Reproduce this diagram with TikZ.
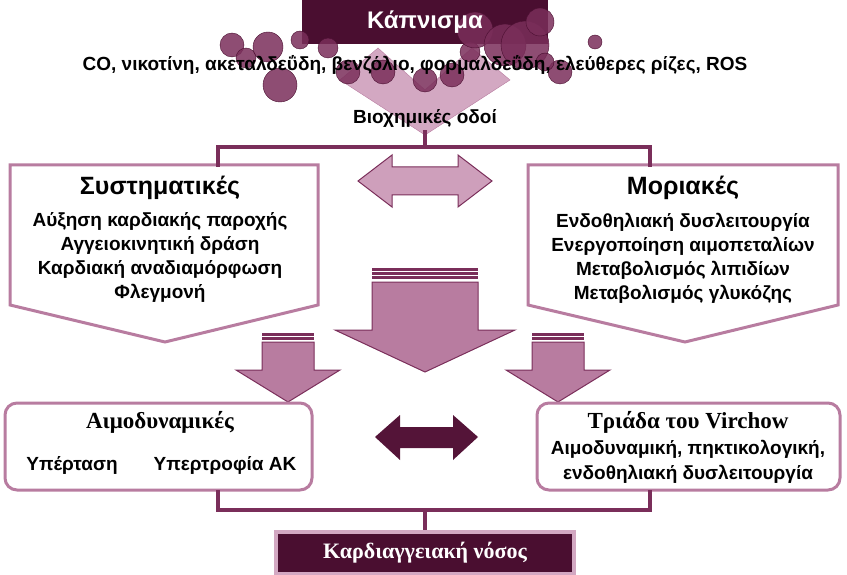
\documentclass[tikz,border=0pt]{standalone}
\usepackage{fontspec}
\setmainfont{Liberation Sans}
\newfontfamily\serifgr{Liberation Serif}
\usetikzlibrary{positioning,shapes.geometric}
\definecolor{plum}{HTML}{7A2E5A}
\definecolor{darkplum}{HTML}{4A0E30}
\definecolor{rose}{HTML}{B87CA0}
\definecolor{lightrose}{HTML}{D3A8C2}
\tikzset{
  txt/.style={font=\bfseries\fontsize{19}{22}\selectfont, text=black, align=center},
  ttl/.style={font=\bfseries\fontsize{25}{28}\selectfont},
  sttl/.style={font=\serifgr\bfseries\fontsize{23}{25}\selectfont},
  pent/.style={draw=rose, line width=3pt, fill=white},
  rbox/.style={draw=rose, line width=3pt, fill=white, rounded corners=12pt},
  brk/.style={draw=plum, line width=4pt},
  bigarrow/.style={fill=rose, draw=plum, line width=1pt},
  bubble/.style={fill=plum, fill opacity=0.85, draw=darkplum}
}
\begin{document}
\begin{tikzpicture}[x=1pt,y=-1pt]
\useasboundingbox (0,0) rectangle (847,575);
% top box
\node (smoke) [fill=darkplum, minimum width=246pt, minimum height=45pt] at (425,22) {};
% chevron
\fill[lightrose, draw=rose] (340,80) -- (378,48) -- (425,90) -- (472,48) -- (510,80) -- (425,135) -- cycle;
% bubbles
\foreach \x/\y/\r in {232/45/12, 246/58/10, 268/47/15, 280/85/17, 300/40/9, 328/48/10,
  348/72/12, 383/72/12, 425/80/12, 452/75/12, 470/52/10, 475/30/18, 505/45/21,
  525/45/24, 540/22/14, 560/72/12, 595/42/7, 545/62/9}
  \fill[bubble] (\x,\y) circle (\r);
\node (smoketxt) [text=white, font=\bfseries\fontsize{24}{26}\selectfont] at (smoke) {Κάπνισμα};
\node (agents) [txt] at (415,65) {CO, νικοτίνη, ακεταλδεΰδη, βενζόλιο, φορμαλδεΰδη, ελεύθερες ρίζες, ROS};
\node (path) [txt] at (425,118) {Βιοχημικές οδοί};
% upper boxes
\draw[pent] (10,165) -- (318,165) -- (318,305) -- (165,342) -- (10,305) -- cycle;
\draw[pent] (528,165) -- (838,165) -- (838,305) -- (685,342) -- (528,305) -- cycle;
\node (sys) [ttl] at (160,188) {Συστηματικές};
\node (sysitems) [txt, below=6pt of sys, font=\bfseries\fontsize{19}{24}\selectfont]
  {Αύξηση καρδιακής παροχής\\Αγγειοκινητική  δράση\\Καρδιακή αναδιαμόρφωση\\Φλεγμονή};
\node (mol) [ttl] at (683,188) {Μοριακές};
\node (molitems) [txt, below=6pt of mol, font=\bfseries\fontsize{19}{24}\selectfont]
  {Ενδοθηλιακή δυσλειτουργία\\Ενεργοποίηση αιμοπεταλίων\\Μεταβολισμός λιπιδίων\\Μεταβολισμός γλυκόζης};
% upper bracket
\coordinate (bl) at (218,167);
\coordinate (br) at (650,167);
\draw[brk] (bl) -- (218,147) -- (650,147) -- (br);
\draw[brk] (425,147) -- (path.south);
% double arrow upper
\fill[lightrose!80!rose, draw=plum, line width=1pt] (358,181) -- (392,155) -- (392,167) -- (458,167) -- (458,155) -- (492,181) -- (458,207) -- (458,195) -- (392,195) -- (392,207) -- cycle;
% big down arrow
\foreach \y in {268,272,276} \fill[plum] (372,\y) rectangle (478,\y+2.5);
\fill[bigarrow] (372,282) -- (478,282) -- (478,330) -- (515,330) -- (425,372) -- (335,330) -- (372,330) -- cycle;
% small arrows
\foreach \cx in {288,558} {
  \foreach \y in {333,337} \fill[plum] (\cx-26,\y) rectangle (\cx+26,\y+2.5);
  \fill[bigarrow] (\cx-26,342) -- (\cx+26,342) -- (\cx+26,370) -- (\cx+52,370) -- (\cx,402) -- (\cx-52,370) -- (\cx-26,370) -- cycle;
}
% lower boxes
\draw[rbox] (5,403) rectangle (312,490);
\draw[rbox] (537,403) rectangle (840,490);
\node (hemo) [sttl] at (160,422) {Αιμοδυναμικές};
\node (htn) [txt] at (72,465) {Υπέρταση};
\node (lvh) [txt] at (225,465) {Υπερτροφία ΑΚ};
\node (vir) [sttl] at (688,422) {Τριάδα του Virchow};
\node (viritems) [txt, below=0pt of vir, font=\bfseries\fontsize{19}{25}\selectfont]
  {Αιμοδυναμική, πηκτικολογική,\\ενδοθηλιακή δυσλειτουργία};
% lower double arrow
\fill[darkplum!80!plum] (375,437) -- (400,415) -- (400,427) -- (453,427) -- (453,415) -- (478,437) -- (453,460) -- (453,448) -- (400,448) -- (400,460) -- cycle;
% bottom box
\node (cvd) [fill=darkplum, draw=lightrose, line width=4pt, minimum width=298pt, minimum height=42pt,
  text=white, font=\serifgr\bfseries\fontsize{22}{24}\selectfont] at (425,553) {Καρδιαγγειακή νόσος};
% lower bracket
\draw[brk] (218,490) -- (218,510) -- (650,510) -- (650,490);
\draw[brk] (425,510) -- (cvd.north);
\end{tikzpicture}
\end{document}
